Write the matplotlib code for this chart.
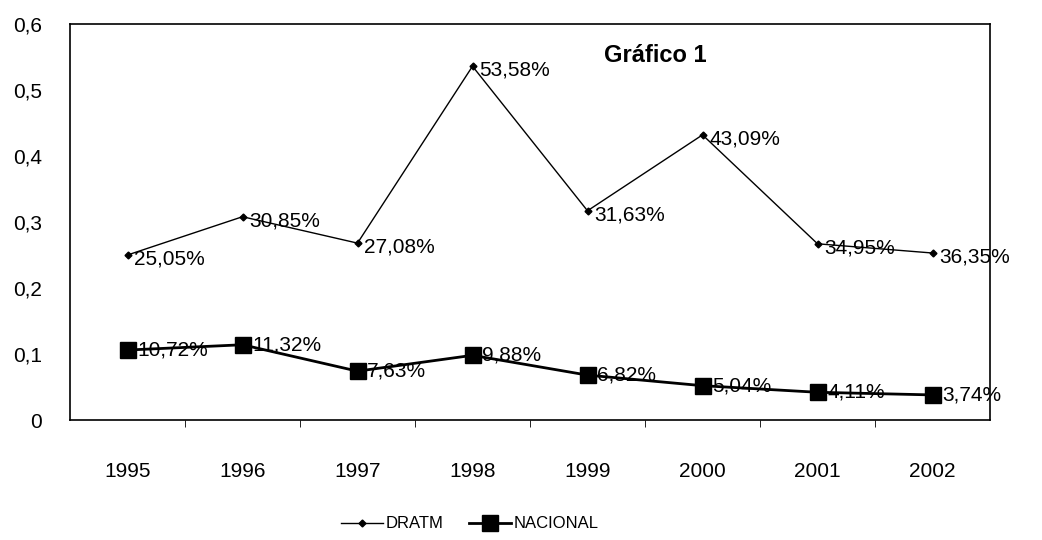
import matplotlib
matplotlib.use("Agg")
import matplotlib.pyplot as plt

plt.rcParams['font.family'] = ['Liberation Sans', 'DejaVu Sans']

years = ["1995", "1996", "1997", "1998", "1999", "2000", "2001", "2002"]
dratm = [0.250, 0.308, 0.268, 0.536, 0.317, 0.432, 0.267, 0.253]
dratm_labels = ["25,05%", "30,85%", "27,08%", "53,58%", "31,63%", "43,09%", "34,95%", "36,35%"]
nacional = [0.106, 0.114, 0.074, 0.098, 0.068, 0.052, 0.042, 0.038]
nacional_labels = ["10,72%", "11,32%", "7,63%", "9,88%", "6,82%", "5,04%", "4,11%", "3,74%"]
yticks = [0, 0.1, 0.2, 0.3, 0.4, 0.5, 0.6]
ytick_labels = ["0", "0,1", "0,2", "0,3", "0,4", "0,5", "0,6"]

fig = plt.figure(figsize=(10.42, 5.4), dpi=100)
ax = fig.add_axes([70/1042, 1-420/540, 920/1042, 396/540])

x = list(range(len(years)))
ax.plot(x, dratm, color='black', lw=1.0, marker='D', ms=3.5, label='DRATM')
ax.plot(x, nacional, color='black', lw=2.0, marker='s', ms=11, label='NACIONAL')

for xi, v, t in zip(x, dratm, dratm_labels):
    ax.annotate(t, (xi, v), xytext=(5, -3), textcoords='offset points',
                ha='left', va='center', fontsize=15)
for xi, v, t in zip(x, nacional, nacional_labels):
    ax.annotate(t, (xi, v), xytext=(7, 0), textcoords='offset points',
                ha='left', va='center', fontsize=15)

ax.set_xlim(-0.5, len(years) - 0.5)
ax.set_ylim(0, 0.6)
ax.set_xticks(x)
ax.set_xticklabels(years, fontsize=15)
ax.set_xticks([i + 0.5 for i in range(len(years) - 1)], minor=True)
ax.tick_params(axis='x', which='major', length=0, pad=30)
ax.tick_params(axis='x', which='minor', length=5, direction='out')
ax.set_yticks(yticks)
ax.set_yticklabels(ytick_labels, fontsize=15)
ax.tick_params(axis='y', length=0, pad=20)
for s in ax.spines.values():
    s.set_color('black')
    s.set_linewidth(1.2)

ax.text(0.58, 0.92, "Gráfico 1", transform=ax.transAxes, fontsize=17,
        fontweight='bold', ha='left', va='center')

fig.legend(loc='center', bbox_to_anchor=(470/1042, 1-524/540), ncol=2,
           frameon=False, fontsize=12, handlelength=2.5, columnspacing=1.5,
           handletextpad=0.2)

fig.savefig("out.png", dpi=100)
